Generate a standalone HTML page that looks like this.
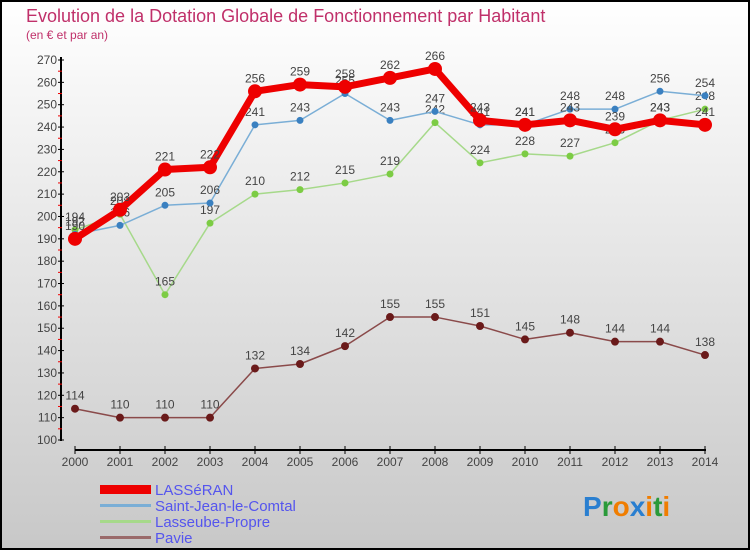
<!DOCTYPE html>
<html><head><meta charset="utf-8"><style>
body{margin:0}
#c{width:750px;height:550px;position:relative;overflow:hidden;font-family:"Liberation Sans",sans-serif}
svg text{font-family:"Liberation Sans",sans-serif}
</style></head><body>
<div id="c">
<svg id="s" width="750" height="550" xmlns="http://www.w3.org/2000/svg">
<defs><linearGradient id="bg" x1="0" y1="0" x2="0" y2="1"><stop offset="0" stop-color="#ffffff"/><stop offset="1" stop-color="#c8c8c8"/></linearGradient></defs>
<rect x="1" y="1" width="748" height="548" fill="url(#bg)" stroke="#000" stroke-width="2"/>
<text x="26" y="22" font-size="18" fill="#c0306a">Evolution de la Dotation Globale de Fonctionnement par Habitant</text>
<text x="26" y="39" font-size="12" fill="#c0306a">(en € et par an)</text>
<g id="axes"></g><g id="series"></g>
<g>
<rect x="100" y="485" width="51" height="9" fill="#ee0000"/>
<text x="155" y="495" font-size="15" fill="#5555ee">LASSéRAN</text>
<rect x="100" y="504" width="51" height="3" fill="#7aaed6"/>
<text x="155" y="511" font-size="15" fill="#5555ee">Saint-Jean-le-Comtal</text>
<rect x="100" y="520" width="51" height="3" fill="#a6d98a"/>
<text x="155" y="527" font-size="15" fill="#5555ee">Lasseube-Propre</text>
<rect x="100" y="536" width="51" height="3" fill="#9a6a6a"/>
<text x="155" y="543" font-size="15" fill="#5555ee">Pavie</text>
</g>
<text x="583" y="516" font-size="28" font-weight="bold"><tspan fill="#2a7fd0">P</tspan><tspan fill="#2a9a3a">r</tspan><tspan fill="#f07d00">o</tspan><tspan fill="#2a7fd0">x</tspan><tspan fill="#f07d00">i</tspan><tspan fill="#2a9a3a">t</tspan><tspan fill="#f07d00">i</tspan></text>
</svg></div>
<script>
const years=["2000","2001","2002","2003","2004","2005","2006","2007","2008","2009","2010","2011","2012","2013","2014"];
const yTicks=[100,110,120,130,140,150,160,170,180,190,200,210,220,230,240,250,260,270];
const lasseran=[190,203,221,222,256,259,258,262,266,243,241,243,239,243,241];
const saintJean=[192,196,205,206,241,243,255,243,247,241,241,248,248,256,254];
const lasseube=[194,201,165,197,210,212,215,219,242,224,228,227,233,243,248];
const pavie=[114,110,110,110,132,134,142,155,155,151,145,148,144,144,138];
const NS="http://www.w3.org/2000/svg";
const X=i=>75+i*(705-75)/14, Y=v=>440-(v-100)*380/170;
function mk(p,t,a){const e=document.createElementNS(NS,t);for(const k in a)e.setAttribute(k,a[k]);p.appendChild(e);return e;}
const ax=document.getElementById('axes'),sg=document.getElementById('series');
const ya=mk(ax,'line',{x1:61,y1:57,x2:61,y2:441,stroke:'#000','stroke-width':2});


const xa=mk(ax,'line',{x1:75,y1:450,x2:706,y2:450,stroke:'#000','stroke-width':2});


yTicks.forEach(v=>{const y=Y(v);mk(ax,'line',{x1:58,y1:y,x2:64,y2:y,stroke:'#000'});
 if(v<270)mk(ax,'line',{x1:58,y1:Y(v+5),x2:62,y2:Y(v+5),stroke:'#e00'});
 const t=mk(ax,'text',{x:57,y:y+4,'font-size':12,fill:'#444','text-anchor':'end'});t.textContent=v;
 
 });
years.forEach((yr,i)=>{const x=X(i);mk(ax,'line',{x1:x,y1:446,x2:x,y2:454,stroke:'#000'});
 const t=mk(ax,'text',{x:x,y:466,'font-size':12,fill:'#444','text-anchor':'middle'});t.textContent=yr;
 
 });
function series(d,name,color,w,r,dot,lab){const g=mk(sg,'g',{});
 
 
 mk(g,'polyline',{points:d.map((v,i)=>X(i)+','+Y(v)).join(' '),fill:'none',stroke:color,'stroke-width':w,'stroke-linejoin':'round'});
 d.forEach((v,i)=>{const c=mk(g,'circle',{cx:X(i),cy:Y(v),r:r,fill:dot});
  
  
  const t=mk(g,'text',{x:X(i),y:Y(v)-9,'font-size':12,fill:lab,'text-anchor':'middle'});t.textContent=v;});}
series(pavie,'pavie','#8a4a4a',1.5,4,'#6a1a1a','#444');
series(lasseube,'lasseube','#a6d98a',1.5,3.5,'#7ccc44','#444');
series(saintJean,'saint-jean','#7aaed6',1.5,3.5,'#3a80c0','#444');
series(lasseran,'lasseran','#ee0000',7,7,'#ee0000','#444');
</script></body></html>
